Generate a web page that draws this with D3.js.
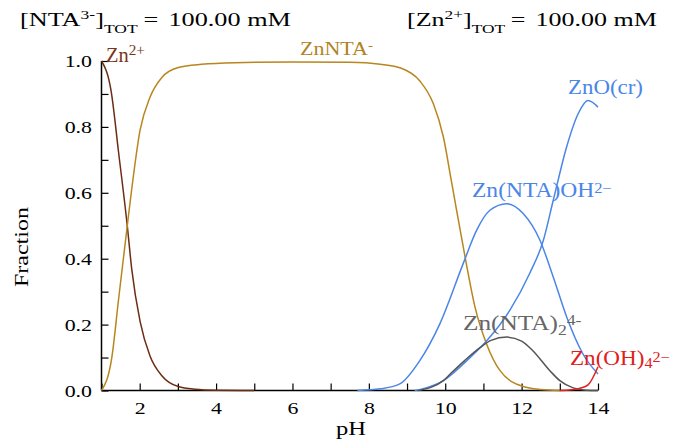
<!DOCTYPE html>
<html>
<head>
<meta charset="utf-8">
<script src="https://cdn.jsdelivr.net/npm/d3@7"></script>
<style>
  body { margin: 0; background: #fff; }
  svg text { font-family: "Liberation Serif", "Times New Roman", serif; }
</style>
</head>
<body>
<svg id="chart" width="683" height="441"></svg>
<script>
// species fractions, as [pH, fraction]
const znFree = [[1, 1.0], [1.25, 0.91], [1.45, 0.72], [1.675, 0.5], [1.79, 0.37], [2.01, 0.21], [2.27, 0.105],
  [2.58, 0.045], [3.01, 0.012], [3.45, 0.004], [4, 0.001], [5, 0]];
const znNTA = [[1, 0], [1.27, 0.10], [1.45, 0.28], [1.675, 0.5], [1.79, 0.61], [2.01, 0.79], [2.27, 0.89],
  [2.58, 0.95], [3.01, 0.98], [3.62, 0.99], [4.5, 0.995], [6, 0.997], [7.5, 0.996], [8.3, 0.99],
  [8.85, 0.978], [9.33, 0.94], [9.69, 0.87], [9.95, 0.77], [10.17, 0.63], [10.52, 0.405], [10.78, 0.253],
  [11.08, 0.142], [11.43, 0.061], [12.04, 0.012], [12.5, 0.003], [13, 0]];
const znNTAOH = [[7.7, 0], [8.3, 0.005], [8.81, 0.02], [9.33, 0.09], [9.85, 0.20], [10.47, 0.385],
  [10.82, 0.486], [11.17, 0.547], [11.61, 0.567], [12.04, 0.537], [12.48, 0.456], [12.83, 0.344],
  [13.18, 0.223], [13.61, 0.11], [14.0, 0.05]];
const znO = [[9.2, 0], [9.5, 0.008], [9.95, 0.03], [10.56, 0.09], [11.08, 0.15], [11.69, 0.243],
  [12.21, 0.355], [12.57, 0.456], [12.83, 0.578], [13.18, 0.74], [13.48, 0.84], [13.74, 0.88], [14.0, 0.86]];
const znNTA2 = [[9.3, 0], [9.95, 0.03], [10.13, 0.05], [10.5, 0.09], [10.91, 0.13], [11.2, 0.152],
  [11.61, 0.162], [12.0, 0.15], [12.3, 0.12], [12.74, 0.06], [13.0, 0.03], [13.35, 0.008], [13.7, 0.001], [14, 0]];
const znOH4 = [[13.0, 0], [13.3, 0.002], [13.53, 0.007], [13.74, 0.017], [14.0, 0.072]];

const xTicks = [2, 4, 6, 8, 10, 12, 14];
const yTicks = [0, 0.2, 0.4, 0.6, 0.8, 1.0];

const svg = d3.select("#chart");
const x = d3.scaleLinear().domain([1, 14]).range([101.5, 598]);
const y = d3.scaleLinear().domain([0, 1]).range([390.5, 61]);

// stretch a text element horizontally (in its own frame) so it spans the given width
function fitWidth(t, width, ax) {
  const w = t.node().getBBox().width;
  const s = width / w;
  t.attr("transform", `translate(${ax},0) scale(${s},1) translate(${-ax},0)`);
  return t;
}

// axes, ticks pointing inward
const xAxis = d3.axisBottom(x).tickValues(d3.range(1, 14.01, 1)).tickSize(-7)
  .tickFormat(d => xTicks.includes(d) ? d : "").tickPadding(11);
const yAxis = d3.axisLeft(y).tickValues(d3.range(0, 1.001, 0.1)).tickSize(-7)
  .tickFormat(d => yTicks.some(t => Math.abs(t - d) < 1e-6) ? d.toFixed(1) : "");

const gx = svg.append("g").attr("transform", `translate(0,${y(0)})`).call(xAxis);
const gy = svg.append("g").attr("transform", `translate(${x(1)},0)`).call(yAxis);
[gx, gy].forEach(g => {
  g.attr("font-family", null);
  g.select(".domain").attr("stroke", "#000").attr("stroke-width", 1.5);
  g.selectAll(".tick line").attr("stroke", "#000").attr("stroke-width", 1.2);
  g.selectAll(".tick text").attr("fill", "#000").style("font-size", "17.5px");
});
gx.select(".domain").attr("d", `M${x(1)},0H${x(14)}`);
gy.select(".domain").attr("d", `M0,${y(1)}V${y(0)}`);
gx.selectAll(".tick text").attr("transform", "scale(1.25,1)");
gy.selectAll(".tick text").attr("x", 0).attr("transform", "translate(-9.5,0) scale(1.25,1)");

// curves
const line = d3.line().x(d => x(d[0])).y(d => y(d[1])).curve(d3.curveMonotoneX);
const series = [
  { data: znFree, color: "#6b2d14" },
  { data: znNTA, color: "#b8861e" },
  { data: znNTAOH, color: "#4a86e8" },
  { data: znO, color: "#4a86e8" },
  { data: znNTA2, color: "#555555" },
  { data: znOH4, color: "#e0201b" }
];
svg.append("g").selectAll("path")
  .data(series)
  .join("path")
  .attr("d", d => line(d.data))
  .attr("fill", "none")
  .attr("stroke", d => d.color)
  .attr("stroke-width", 1.5);

// text with sub/superscripts: parts are [text, dy, size, dx]
function label(xp, yp, color, size, parts) {
  const t = svg.append("text").attr("x", xp).attr("y", yp).attr("fill", color)
    .style("font-size", size + "px");
  parts.forEach(p => {
    const s = t.append("tspan").text(p[0]);
    if (p[1]) s.attr("dy", p[1]);
    if (p[2]) s.style("font-size", p[2] + "px");
    if (p[3]) s.attr("dx", p[3]);
  });
  return t;
}

// header
fitWidth(label(20, 26, "#000", 18, [["[NTA"], ["3-", -7, 12], ["]", 7], ["TOT", 7, 12], ["=", -7, null, 4], ["100.00 mM", 0, null, 7]]), 271, 20);
fitWidth(label(407, 26, "#000", 18, [["[Zn"], ["2+", -7, 12], ["]", 7], ["TOT", 7, 12], ["=", -7, null, 4], ["100.00 mM", 0, null, 7]]), 250, 407);

// species labels
fitWidth(label(106, 62, "#7a3418", 20, [["Zn"], ["2+", -7, 15]]), 39, 106);
fitWidth(label(300, 55, "#b08323", 19, [["ZnNTA"], ["-", -6, 13]]), 73, 300);
fitWidth(label(568, 94, "#4a86e8", 20, [["ZnO(cr)"]]), 75, 568);
fitWidth(label(472, 197, "#4a86e8", 20, [["Zn(NTA)OH"], ["2−", -4, 14]]), 140, 472);
fitWidth(label(463, 330, "#666666", 20, [["Zn(NTA)"], ["2", 5, 14], ["4-", -10, 14]]), 119, 463);
fitWidth(label(570, 365, "#e0201b", 20, [["Zn(OH)"], ["4", 3, 14], ["2−", -6, 14]]), 100, 570);

// axis titles
fitWidth(svg.append("text").attr("x", 336).attr("y", 435).style("font-size", "18px").text("pH"), 30, 336);
svg.append("text").attr("x", 0).attr("y", 0).style("font-size", "18px").text("Fraction")
  .attr("transform", function () {
    const w = this.getBBox().width;
    return `translate(28,287) rotate(-90) scale(${80 / w},1)`;
  });
</script>
</body>
</html>
